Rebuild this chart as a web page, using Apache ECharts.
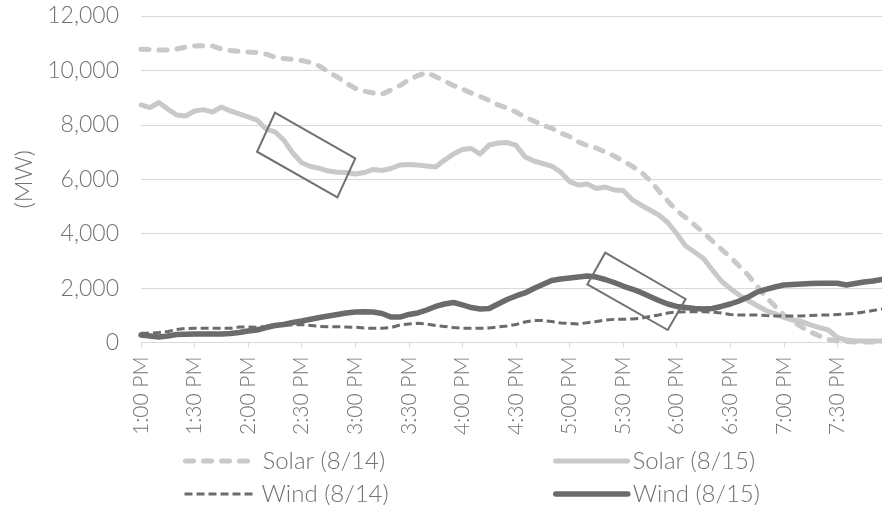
<!DOCTYPE html>
<html>
<head>
<meta charset="utf-8">
<script src="https://cdn.jsdelivr.net/npm/echarts@6/dist/echarts.min.js"></script>
<style>
html, body { margin: 0; padding: 0; background: #fff; }
#chart { width: 882px; height: 510px; }
</style>
</head>
<body>
<div id="chart"></div>
<script>
// 5-minute steps from 1:00 PM to 7:55 PM
const times = []
for (let m = 0; m < 84 * 5; m += 5) {
  const mm = m % 60
  times.push((1 + Math.floor(m / 60)) + ':' + (mm < 10 ? '0' : '') + mm + ' PM')
}

const solar814 = [10775, 10770, 10750, 10750, 10785, 10860, 10900, 10905, 10900, 10785,
  10730, 10700, 10675, 10660, 10600, 10490, 10435, 10400, 10365, 10290,
  10160, 9940, 9760, 9535, 9340, 9240, 9170, 9130, 9280, 9445,
  9650, 9810, 9920, 9775, 9610, 9445, 9315, 9170, 9040, 8895,
  8730, 8620, 8470, 8290, 8140, 7990, 7880, 7700, 7570, 7370,
  7240, 7150, 7000, 6855, 6670, 6485, 6265, 5970, 5570, 5200,
  4850, 4595, 4320, 4040, 3730, 3435, 3140, 2810, 2480, 2075,
  1670, 1340, 1010, 790, 570, 385, 240, 110, 55, 40,
  20, 20, 20, 20]

const solar815 = [8730, 8635, 8820, 8580, 8360, 8325, 8510, 8560, 8470, 8655,
  8510, 8400, 8290, 8175, 7845, 7745, 7440, 6965, 6605, 6470,
  6400, 6300, 6255, 6245, 6190, 6245, 6360, 6320, 6395, 6525,
  6540, 6525, 6485, 6450, 6705, 6925, 7090, 7130, 6925, 7260,
  7330, 7350, 7250, 6830, 6670, 6580, 6485, 6265, 5915, 5790,
  5825, 5660, 5715, 5605, 5585, 5255, 5055, 4870, 4685, 4410,
  4005, 3545, 3325, 3085, 2665, 2260, 1985, 1745, 1545, 1360,
  1175, 1065, 920, 825, 770, 645, 550, 460, 185, 90,
  55, 55, 55, 55]

const wind814 = [340, 340, 370, 405, 480, 515, 520, 520, 520, 520,
  520, 570, 570, 560, 590, 625, 645, 645, 660, 625,
  590, 580, 580, 570, 560, 535, 520, 520, 550, 645,
  680, 705, 680, 625, 590, 550, 520, 520, 520, 535,
  570, 605, 660, 755, 810, 810, 770, 715, 700, 680,
  730, 770, 825, 850, 850, 865, 890, 955, 1010, 1085,
  1120, 1130, 1130, 1130, 1120, 1085, 1030, 1010, 1010, 1010,
  990, 975, 975, 975, 975, 990, 1010, 1010, 1030, 1045,
  1075, 1120, 1175, 1230]

const wind815 = [275, 240, 200, 240, 295, 300, 310, 310, 310, 310,
  330, 365, 420, 460, 550, 625, 660, 735, 790, 855,
  920, 975, 1030, 1085, 1120, 1130, 1120, 1065, 935, 935,
  1030, 1085, 1195, 1325, 1415, 1470, 1380, 1285, 1230, 1250,
  1415, 1580, 1710, 1820, 1985, 2130, 2280, 2335, 2370, 2405,
  2445, 2405, 2315, 2205, 2075, 1965, 1840, 1690, 1545, 1415,
  1325, 1285, 1250, 1230, 1250, 1325, 1415, 1525, 1670, 1855,
  1950, 2040, 2115, 2130, 2150, 2170, 2175, 2175, 2175, 2115,
  2170, 2225, 2260, 2315]

// highlight boxes, corners as [time index, MW]
const boxes = [
  [[15.12, 8445], [24.16, 6770], [21.73, 5336], [12.58, 7012]],
  [[52.08, 3300], [61.12, 1599], [58.95, 459], [49.92, 2139]]
]

const font = 'Lato'
const weight = 300
const textColor = '#727272'
const light = '#c9c9c9'
const dark = '#6b6b6b'

const styles = {
  'Solar (8/14)': { color: light, width: 5, type: [8, 10], cap: 'round' },
  'Solar (8/15)': { color: light, width: 5, cap: 'round', join: 'round' },
  'Wind (8/14)': { color: dark, width: 3, type: [8, 4] },
  'Wind (8/15)': { color: dark, width: 5.5, cap: 'round', join: 'round' }
}

const chart = echarts.init(document.getElementById('chart'))

function legendFor (name, left, top) {
  return {
    data: [name],
    left: left,
    top: top,
    itemWidth: 72,
    itemHeight: 24,
    itemGap: 0,
    padding: 0,
    itemStyle: { opacity: 0 },
    lineStyle: styles[name],
    textStyle: { fontFamily: font, fontWeight: weight, fontSize: 24, color: textColor }
  }
}

const option = {
  animation: false,
  grid: { left: 141, right: 0, top: 16, bottom: 167.5, outerBoundsMode: 'none' },
  legend: [
    legendFor('Solar (8/14)', 183, 449),
    legendFor('Solar (8/15)', 553, 449),
    legendFor('Wind (8/14)', 183, 482),
    legendFor('Wind (8/15)', 553, 482)
  ],
  xAxis: {
    type: 'category',
    data: times,
    boundaryGap: false,
    axisLine: { lineStyle: { color: '#d9d9d9', width: 1 } },
    axisTick: { interval: 5, length: 5, lineStyle: { color: '#d9d9d9' } },
    axisLabel: {
      interval: 5,
      rotate: 90,
      margin: 14,
      fontFamily: font,
      fontWeight: weight,
      fontSize: 21,
      color: textColor
    },
    splitLine: { show: false }
  },
  yAxis: {
    type: 'value',
    min: 0,
    max: 12000,
    interval: 2000,
    name: '(MW)',
    nameLocation: 'middle',
    nameRotate: 90,
    nameGap: 104,
    nameTextStyle: { fontFamily: font, fontWeight: weight, fontSize: 24, color: textColor },
    axisLine: { show: false },
    axisTick: { show: false },
    axisLabel: {
      margin: 22,
      fontFamily: font,
      fontWeight: weight,
      fontSize: 23,
      color: textColor,
      formatter: v => v.toLocaleString('en-US')
    },
    splitLine: { lineStyle: { color: '#d9d9d9', width: 1 } }
  },
  series: [solar814, solar815, wind814, wind815].map((d, i) => {
    const name = Object.keys(styles)[i]
    return {
      name: name,
      type: 'line',
      data: d,
      symbol: 'none',
      lineStyle: styles[name]
    }
  })
}

chart.setOption(option)

chart.setOption({
  graphic: boxes.map(b => ({
    type: 'polygon',
    shape: { points: b.map(p => chart.convertToPixel({ gridIndex: 0 }, p)) },
    style: { fill: null, stroke: '#707070', lineWidth: 2 },
    z: 10
  }))
})
</script>
</body>
</html>
